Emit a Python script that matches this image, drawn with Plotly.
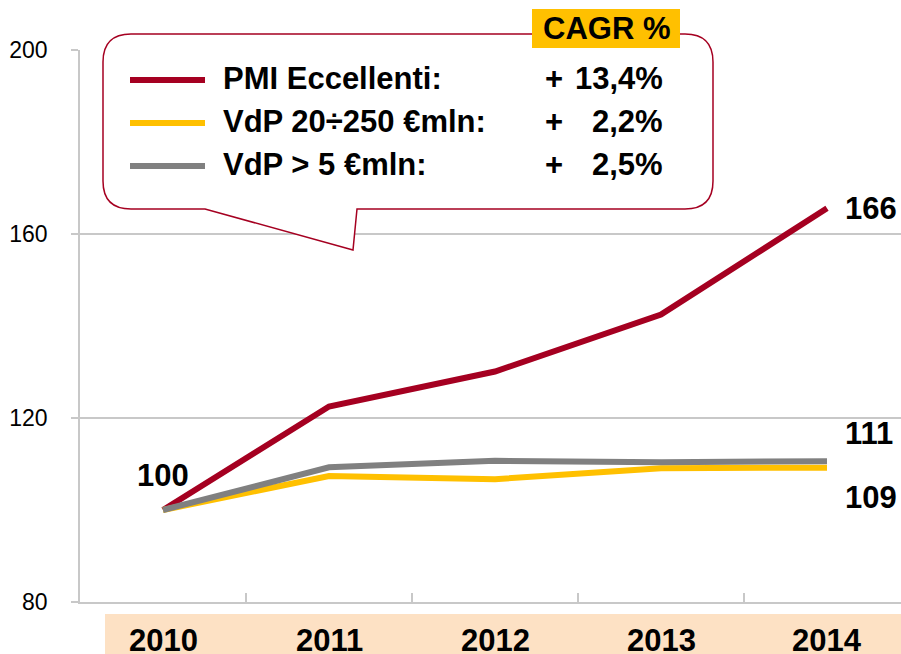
import plotly.graph_objects as go

# ---- data ----
years = ["2010", "2011", "2012", "2013", "2014"]
pmi = [100, 122.5, 130.1, 142.5, 165.6]
vdp_20_250 = [100, 107.4, 106.7, 109.1, 109.2]
vdp_5 = [100, 109.3, 110.7, 110.4, 110.6]
series_names = ["PMI Eccellenti:", "VdP 20÷250 €mln:", "VdP > 5 €mln:"]
cagr = ["13,4%", "2,2%", "2,5%"]
y_ticks = [80, 120, 160, 200]

RED = "#A50021"
YEL = "#FFC000"
GRY = "#808080"
PEACH = "#FDE1C4"
FONT = "Arial, Liberation Sans, sans-serif"

W, H = 901, 654
ML, MR, MT, MB = 80, 0, 50, 52
PW = W - ML - MR
PH = H - MT - MB


def px(x):
    return (x - ML) / PW


def py(y):
    return (H - MB - y) / PH


xs = list(range(len(years)))
fig = go.Figure()
for vals, col in [(pmi, RED), (vdp_20_250, YEL), (vdp_5, GRY)]:
    fig.add_trace(go.Scatter(x=xs, y=vals, mode="lines",
                             line=dict(color=col, width=6),
                             hoverinfo="skip", showlegend=False))

# callout shape
r = 28
L, R_, T, B = 103, 713, 34, 209
pts = [
    ("M", [(L + r, T)]),
    ("L", [(R_ - r, T)]),
    ("Q", [(R_, T), (R_, T + r)]),
    ("L", [(R_, B - r)]),
    ("Q", [(R_, B), (R_ - r, B)]),
    ("L", [(357, B)]),
    ("L", [(353, 250)]),
    ("L", [(205, B)]),
    ("L", [(L + r, B)]),
    ("Q", [(L, B), (L, B - r)]),
    ("L", [(L, T + r)]),
    ("Q", [(L, T), (L + r, T)]),
]
path = ""
for cmd, pp in pts:
    path += cmd + " " + " ".join(f"{px(a):.5f},{py(b):.5f}" for a, b in pp) + " "
path += "Z"

shapes = [
    dict(type="rect", xref="paper", yref="paper", x0=px(105), x1=px(905),
         y0=py(660), y1=py(614), fillcolor=PEACH, line=dict(width=0), layer="below"),
    dict(type="path", xref="paper", yref="paper", path=path, fillcolor="white",
         line=dict(color=RED, width=1.5), layer="above"),
    dict(type="rect", xref="paper", yref="paper", x0=px(532), x1=px(680),
         y0=py(48), y1=py(9), fillcolor=YEL, line=dict(width=0), layer="above"),
]
leg_y = [80, 123, 166]
for yy, col in zip(leg_y, [RED, YEL, GRY]):
    shapes.append(dict(type="line", xref="paper", yref="paper", x0=px(130), x1=px(205),
                       y0=py(yy), y1=py(yy), line=dict(color=col, width=6), layer="above"))

ann = []
big = dict(family=FONT, size=31, color="black")
ann.append(dict(xref="paper", yref="paper", x=px(606), y=py(29), text="<b>CAGR %</b>",
                showarrow=False, xanchor="center", yanchor="middle", font=big))
for yy, name, c in zip(leg_y, series_names, cagr):
    ann.append(dict(xref="paper", yref="paper", x=px(221), y=py(yy - 2), text=f"<b>{name}</b>",
                    showarrow=False, xanchor="left", yanchor="middle", font=big))
    ann.append(dict(xref="paper", yref="paper", x=px(543), y=py(yy - 2), text="<b>+</b>",
                    showarrow=False, xanchor="left", yanchor="middle", font=big))
    ann.append(dict(xref="paper", yref="paper", x=px(665), y=py(yy - 2), text=f"<b>{c}</b>",
                    showarrow=False, xanchor="right", yanchor="middle", font=big))

for i, yr in enumerate(years):
    ann.append(dict(xref="x", yref="paper", x=i, y=py(640), text=f"<b>{yr}</b>",
                    showarrow=False, xanchor="center", yanchor="middle", font=big))

# data labels
ann.append(dict(xref="x", yref="y", x=0, y=pmi[0], text=f"<b>{round(pmi[0])}</b>",
                showarrow=False, xanchor="center", yanchor="middle", yshift=35, font=big))
for vals, ys in [(pmi, 0), (vdp_5, 28), (vdp_20_250, -30)]:
    ann.append(dict(xref="x", yref="y", x=4, y=vals[-1], text=f"<b>{round(vals[-1])}</b>",
                    showarrow=False, xanchor="left", yanchor="middle", xshift=16, yshift=ys,
                    font=big))

fig.update_layout(
    width=W, height=H,
    margin=dict(l=ML, r=MR, t=MT, b=MB),
    paper_bgcolor="white", plot_bgcolor="white",
    shapes=shapes, annotations=ann,
    xaxis=dict(range=[-0.5, -0.5 + PW / 166], showgrid=False, zeroline=False,
               showline=True, linecolor="#C8C8C8", linewidth=1.5,
               tickmode="array", tickvals=[0.5, 1.5, 2.5, 3.5], ticks="inside",
               ticklen=9, tickcolor="#C8C8C8", tickwidth=1.5, showticklabels=False),
    yaxis=dict(range=[80, 200], tickvals=y_ticks, showgrid=True, gridcolor="#C8C8C8",
               gridwidth=1.5, zeroline=False, showline=True, linecolor="#C8C8C8",
               linewidth=1.5, ticks="outside", ticklen=7, tickcolor="#C8C8C8",
               tickwidth=1.5, ticklabelstandoff=19,
               tickfont=dict(family=FONT, size=23, color="black")),
)
fig.write_html("out.html", config={"displayModeBar": False},
               post_script="document.body.style.margin='0';document.body.style.overflow='hidden';")
